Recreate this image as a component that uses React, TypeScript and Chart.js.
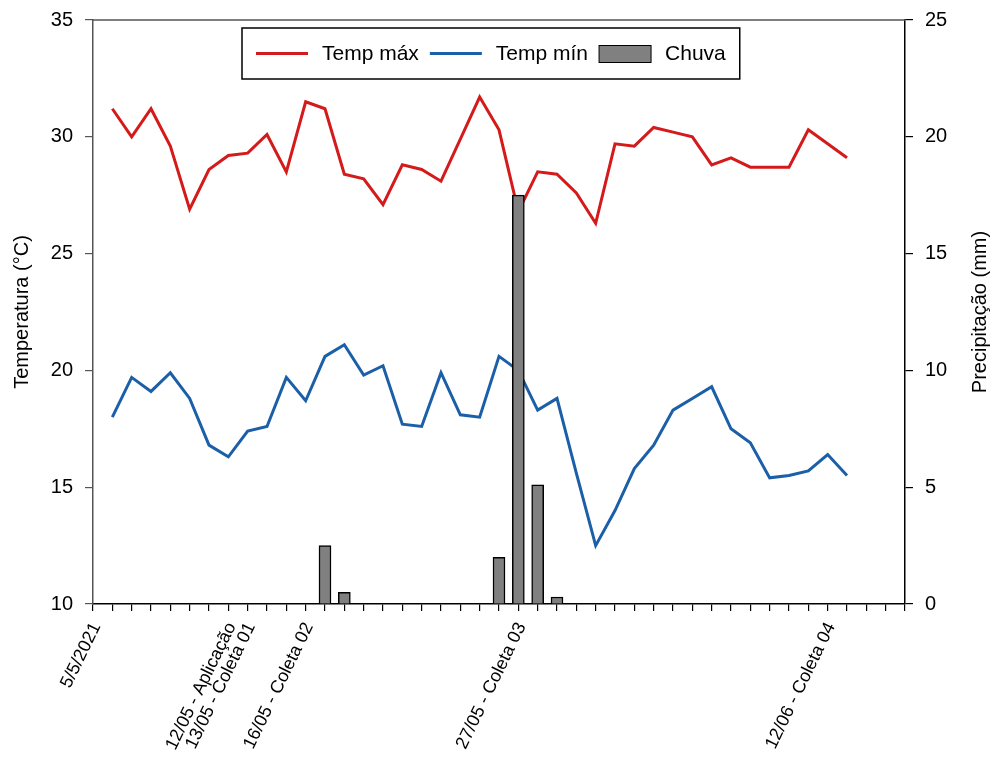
import React, { useEffect, useRef } from 'react';
import { Chart, registerables } from 'chart.js';

Chart.register(...registerables);

// ---- Data ----
const dates = [
  '05/05', '06/05', '07/05', '08/05', '09/05', '10/05', '11/05', '12/05', '13/05', '14/05',
  '15/05', '16/05', '17/05', '18/05', '19/05', '20/05', '21/05', '22/05', '23/05', '24/05',
  '25/05', '26/05', '27/05', '28/05', '29/05', '30/05', '31/05', '01/06', '02/06', '03/06',
  '04/06', '05/06', '06/06', '07/06', '08/06', '09/06', '10/06', '11/06', '12/06',
];

const tempMax = [
  31.2, 30.0, 31.2, 29.6, 26.9, 28.6, 29.2, 29.3, 30.1, 28.5,
  31.5, 31.2, 28.4, 28.2, 27.1, 28.8, 28.6, 28.1, 29.9, 31.7,
  30.3, 26.8, 28.5, 28.4, 27.6, 26.3, 29.7, 29.6, 30.4, 30.2,
  30.0, 28.8, 29.1, 28.7, 28.7, 28.7, 30.3, 29.7, 29.1,
];

const tempMin = [
  18.0, 19.7, 19.1, 19.9, 18.8, 16.8, 16.3, 17.4, 17.6, 19.7,
  18.7, 20.6, 21.1, 19.8, 20.2, 17.7, 17.6, 19.9, 18.1, 18.0,
  20.6, 20.0, 18.3, 18.8, 15.6, 12.5, 14.0, 15.8, 16.8, 18.3,
  18.8, 19.3, 17.5, 16.9, 15.4, 15.5, 15.7, 16.4, 15.5,
];

const rain = [
  0, 0, 0, 0, 0, 0, 0, 0, 0, 0,
  0, 2.5, 0.5, 0, 0, 0, 0, 0, 0, 0,
  2.0, 17.5, 5.1, 0.3, 0, 0, 0, 0, 0, 0,
  0, 0, 0, 0, 0, 0, 0, 0, 0,
];

const tickLabelDays = [0, 7, 8, 11, 22, 38];
const tickLabels = [
  '5/5/2021',
  '12/05 - Aplicação',
  '13/05 - Coleta 01',
  '16/05 - Coleta 02',
  '27/05 - Coleta 03',
  '12/06 - Coleta 04',
];

const tempTicks = { min: 10, max: 35, step: 5 };
const rainTicks = { min: 0, max: 25, step: 5 };

const seriesNames = ['Temp máx', 'Temp mín', 'Chuva'];
const leftTitle = 'Temperatura (°C)';
const rightTitle = 'Precipitação (mm)';

const FONT = '"Liberation Sans", Arial, Helvetica, sans-serif';

const decorPlugin = {
  id: 'decor',
  afterDraw(chart: any) {
    const { ctx, chartArea } = chart;
    ctx.save();
    // top frame line
    ctx.strokeStyle = '#555';
    ctx.lineWidth = 1.5;
    ctx.beginPath();
    ctx.moveTo(chartArea.left, chartArea.top);
    ctx.lineTo(chartArea.right, chartArea.top);
    ctx.stroke();

    // right axis title (reads bottom-to-top)
    ctx.save();
    ctx.translate(chartArea.right + 75, (chartArea.top + chartArea.bottom) / 2);
    ctx.rotate(-Math.PI / 2);
    ctx.font = `20px ${FONT}`;
    ctx.fillStyle = '#000';
    ctx.textAlign = 'center';
    ctx.textBaseline = 'middle';
    ctx.fillText(rightTitle, 0, 0);
    ctx.restore();

    // legend box
    ctx.font = `21px ${FONT}`;
    const items = chart.data.datasets.map((ds: any) => ({
      label: ds.label,
      type: ds.type,
      stroke: ds.borderColor,
      fill: ds.backgroundColor,
    }));
    const pad = 14, sw = 52, gapT = 14, gapI = 11, bh = 51;
    const widths = items.map((it: any) => ctx.measureText(it.label).width);
    let total = pad * 2 + gapI * (items.length - 1);
    widths.forEach((w: number) => (total += sw + gapT + w));
    const bx = chartArea.left + 149;
    const by = chartArea.top + 8;
    ctx.fillStyle = '#fff';
    ctx.fillRect(bx, by, total, bh);
    ctx.strokeStyle = '#000';
    ctx.lineWidth = 1.5;
    ctx.strokeRect(bx, by, total, bh);
    const cy = by + bh / 2;
    let x = bx + pad;
    items.forEach((it: any, i: number) => {
      if (it.type === 'line') {
        ctx.strokeStyle = it.stroke;
        ctx.lineWidth = 3;
        ctx.beginPath();
        ctx.moveTo(x, cy);
        ctx.lineTo(x + sw, cy);
        ctx.stroke();
      } else {
        ctx.fillStyle = it.fill;
        ctx.fillRect(x, cy - 8, sw, 17);
        ctx.strokeStyle = '#000';
        ctx.lineWidth = 1;
        ctx.strokeRect(x, cy - 8, sw, 17);
      }
      ctx.fillStyle = '#000';
      ctx.textAlign = 'left';
      ctx.textBaseline = 'middle';
      ctx.fillText(it.label, x + sw + gapT, cy + 1);
      x += sw + gapT + widths[i] + gapI;
    });
    ctx.restore();
  },
};

export default function App() {
  const canvasRef = useRef<HTMLCanvasElement | null>(null);

  useEffect(() => {
    if (!canvasRef.current) return;
    document.body.style.margin = '0';
    Chart.defaults.font.family = FONT;
    const chart = new Chart(canvasRef.current, {
      data: {
        datasets: [
          {
            type: 'line',
            label: seriesNames[0],
            data: tempMax.map((v, i) => ({ x: i, y: v })),
            borderColor: '#D41A1A',
            backgroundColor: '#D41A1A',
            borderWidth: 3,
            pointRadius: 0,
            tension: 0,
            yAxisID: 'y',
            order: 1,
          },
          {
            type: 'line',
            label: seriesNames[1],
            data: tempMin.map((v, i) => ({ x: i, y: v })),
            borderColor: '#1B5FA8',
            backgroundColor: '#1B5FA8',
            borderWidth: 3,
            pointRadius: 0,
            tension: 0,
            yAxisID: 'y',
            order: 1,
          },
          {
            type: 'bar',
            label: seriesNames[2],
            data: rain.map((v, i) => ({ x: i, y: v > 0 ? v : null })),
            backgroundColor: '#808080',
            borderColor: '#000',
            borderWidth: 1.5,
            barThickness: 12,
            yAxisID: 'y1',
            order: 0,
          },
        ],
      } as any,
      options: {
        responsive: true,
        maintainAspectRatio: false,
        animation: false,
        layout: { padding: { top: 20, left: 0, right: 0, bottom: 0 } },
        plugins: {
          legend: { display: false },
          tooltip: { enabled: false },
        },
        scales: {
          x: {
            type: 'linear',
            position: 'bottom',
            min: -1,
            max: 41,
            offset: false,
            afterFit: (s: any) => { s.height = 154; s.paddingLeft = 0; s.paddingRight = 0; },
            border: { display: true, color: '#000', width: 1.5 },
            grid: { display: true, offset: false, drawOnChartArea: false, drawTicks: true, tickLength: 7, color: '#000', lineWidth: 1.2 },
            ticks: {
              stepSize: 1,
              autoSkip: false,
              maxRotation: 64,
              minRotation: 64,
              padding: 8,
              labelOffset: -16,
              color: '#000',
              font: { size: 18 },
              callback: (v: any) => {
                const idx = tickLabelDays.indexOf(Math.round(Number(v)));
                return idx >= 0 ? tickLabels[idx] : '';
              },
            },
          },
          y: {
            type: 'linear',
            position: 'left',
            min: tempTicks.min,
            max: tempTicks.max,
            afterFit: (s: any) => { s.width = 93; s.paddingTop = 0; s.paddingBottom = 0; },
            border: { display: true, color: '#555', width: 1.5 },
            grid: { display: true, drawOnChartArea: false, drawTicks: true, tickLength: 8, color: '#555', lineWidth: 1.2 },
            ticks: { stepSize: tempTicks.step, padding: 12, color: '#000', font: { size: 20 } },
            title: { display: true, text: leftTitle, color: '#000', font: { size: 20 }, padding: { top: 10, bottom: 0 } },
          },
          y1: {
            type: 'linear',
            position: 'right',
            min: rainTicks.min,
            max: rainTicks.max,
            afterFit: (s: any) => { s.width = 88; s.paddingTop = 0; s.paddingBottom = 0; },
            border: { display: true, color: '#000', width: 1.5 },
            grid: { display: true, drawOnChartArea: false, drawTicks: true, tickLength: 8, color: '#000', lineWidth: 1.2 },
            ticks: { stepSize: rainTicks.step, padding: 12, color: '#000', font: { size: 20 } },
          },
        },
      } as any,
      plugins: [decorPlugin],
    });
    return () => chart.destroy();
  }, []);

  return (
    <div style={{ width: 993, height: 758, position: 'relative' }}>
      <canvas ref={canvasRef} />
    </div>
  );
}
